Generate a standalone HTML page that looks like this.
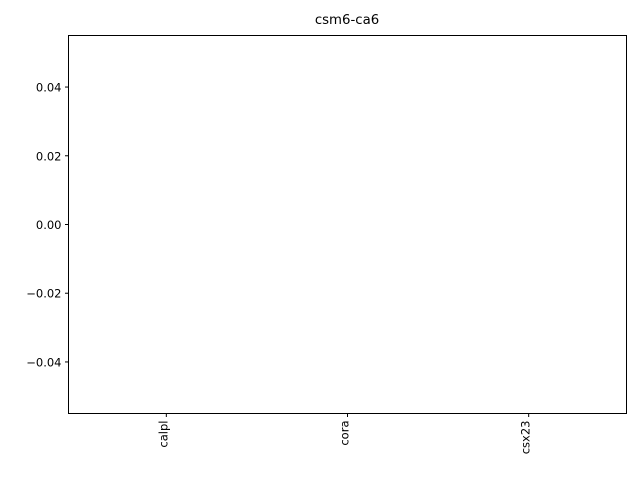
<!DOCTYPE html>
<html><head><meta charset="utf-8"><style>
body{margin:0;background:#fff;}
svg{display:block;font-family:"DejaVu Sans","Liberation Sans",sans-serif;}
</style></head><body>
<svg id="chart" width="640" height="480">
<text x="347" y="24" text-anchor="middle" font-size="13.3">csm6-ca6</text>
<g id="yaxis"></g>
<g id="xaxis"></g>
<g id="bars"></g>
<rect x="68.5" y="35.5" width="558" height="378" fill="none" stroke="#000" stroke-width="1"/>
</svg>
<script>
const categories = ["calpl", "cora", "csx23"];
const values = [0, 0, 0];
const yTicks = [0.04, 0.02, 0.00, -0.02, -0.04];
const yTickLabels = ["0.04", "0.02", "0.00", "\u22120.02", "\u22120.04"];

const L=68.5,R=626.5,T=35.5,B=413.5;
const yMin=-0.055,yMax=0.055;
const xMin=-0.54,xMax=categories.length-1+0.54;
const ys=v=>B-(v-yMin)/(yMax-yMin)*(B-T);
const xs=v=>L+(v-xMin)/(xMax-xMin)*(R-L);
const NS="http://www.w3.org/2000/svg";
const yg=document.getElementById('yaxis'),xg=document.getElementById('xaxis'),bg=document.getElementById('bars');
yTicks.forEach((t,i)=>{
  const y=ys(t);
  const l=document.createElementNS(NS,'line');
  l.setAttribute('x1',L-3.5);l.setAttribute('x2',L);l.setAttribute('y1',y);l.setAttribute('y2',y);l.setAttribute('stroke','#000');
  
  
  yg.appendChild(l);
  const tx=document.createElementNS(NS,'text');
  tx.setAttribute('x',L-7);tx.setAttribute('y',y+4.5);tx.setAttribute('text-anchor','end');tx.setAttribute('font-size','11.5');
  tx.textContent=yTickLabels[i];
  
  
  yg.appendChild(tx);
});
categories.forEach((c,i)=>{
  const x=xs(i);
  const l=document.createElementNS(NS,'line');
  l.setAttribute('x1',x);l.setAttribute('x2',x);l.setAttribute('y1',B);l.setAttribute('y2',B+3.5);l.setAttribute('stroke','#000');
  
  
  xg.appendChild(l);
  const tx=document.createElementNS(NS,'text');
  tx.setAttribute('transform','translate('+(x+1)+','+(B+7)+') rotate(-90)');
  tx.setAttribute('text-anchor','end');tx.setAttribute('font-size','11.5');
  tx.textContent=c;
  
  
  xg.appendChild(tx);
  const v=values[i];
  const r=document.createElementNS(NS,'rect');
  const x0=xs(i-0.4),x1=xs(i+0.4);
  r.setAttribute('x',x0);r.setAttribute('width',x1-x0);
  r.setAttribute('y',Math.min(ys(v),ys(0)));r.setAttribute('height',Math.abs(ys(v)-ys(0)));
  r.setAttribute('fill','#1f77b4');
  
  
  bg.appendChild(r);
});
</script>
</body></html>
